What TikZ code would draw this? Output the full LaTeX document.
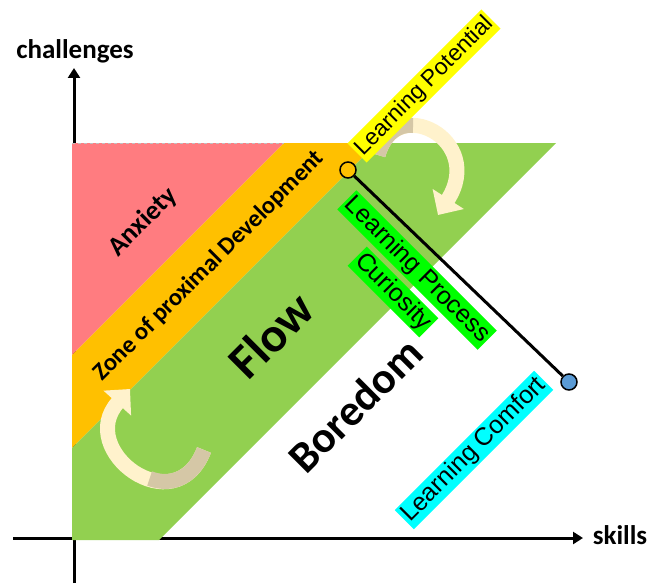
\documentclass[tikz,border=0pt]{standalone}
\usepackage{fontspec}
\setmainfont{Carlito}
\newfontfamily\labelfont{Liberation Sans}
\usetikzlibrary{arrows.meta,positioning}
\definecolor{anxred}{HTML}{FF7C80}
\definecolor{zpdorange}{HTML}{FFC000}
\definecolor{flowgreen}{HTML}{92D050}
\definecolor{tagyellow}{HTML}{FFFF00}
\definecolor{taggreen}{HTML}{00FF00}
\definecolor{tagcyan}{HTML}{00FFFF}
\definecolor{dotblue}{HTML}{5B9BD5}
\definecolor{cream}{HTML}{FFF2CC}
\definecolor{creamdark}{HTML}{D5C7A6}

\begin{document}
\begin{tikzpicture}[x=1pt,y=-1pt]

\tikzset{zonetext/.style={
  font=\bfseries\fontsize{27}{27}\selectfont,
  rotate=45, inner sep=0pt
  },
  bigtext/.style={
  font=\bfseries\fontsize{49}{49}\selectfont,
  rotate=45, inner sep=0pt
  },
  tag/.style={
  font=\labelfont\fontsize{25}{25}\selectfont,
  inner sep=2pt, text height=18pt, text depth=5pt
  },
  dot/.style={circle, draw=black, line width=1.5pt,
  minimum size=16pt, inner sep=0pt},
  axisline/.style={line width=3pt, -{Triangle[length=10pt,width=12pt]}},
  bendarrow/.style={line width=15pt, draw=cream}
}

\useasboundingbox (0,0) rectangle (652,583);

% axes
\coordinate (xstart) at (13,538);
\coordinate (xend) at (583,538);
\coordinate (ystart) at (74,583);
\coordinate (yend) at (74,68);
\path[draw,axisline] (xstart) -- (xend);
\path[draw,axisline] (ystart) -- (yend);
\node[font=\bfseries\fontsize{27}{27}\selectfont] (challenges) at (75,51) {challenges};
\node[font=\bfseries\fontsize{27}{27}\selectfont] (skills) at (620,535) {skills};

% zones
\path[fill=anxred] (72,143) -- (284,143) -- (72,355) -- cycle;
\path[fill=zpdorange] (284,143) -- (377,143) -- (72,448) -- (72,355) -- cycle;
\path[fill=flowgreen] (377,143) -- (556,143) -- (159,540) -- (72,540) -- (72,448) -- cycle;
\path[draw=gray!50,dashed,line width=0.6pt] (72,143) -- (284,143);

% turning arrows
\coordinate (tailtop) at (378,155);
\coordinate (tiptop) at (438,215);
\path[bendarrow,-{Triangle[length=19pt,width=36pt]}] (tailtop) .. controls (395,92) and (486,140) .. (tiptop);
\path[bendarrow,draw=creamdark] (tailtop) .. controls (384,134) and (398.5,124) .. (413,125.5);
\coordinate (tailbot) at (204,450);
\coordinate (tipbot) at (130,389);
\path[bendarrow,-{Triangle[length=19pt,width=36pt]}] (tailbot) .. controls (175,525) and (75,450) .. (tipbot);
\path[bendarrow,draw=creamdark] (tailbot) .. controls (192.4,480) and (169.4,486) .. (149.6,478.5);

% zone names
\node[zonetext] (anxiety) at (143,222) {Anxiety};
\node[zonetext,font=\bfseries\fontsize{24.5}{24.5}\selectfont] (zpd) at (209,266) {Zone of proximal Development};
\node[bigtext] (flow) at (271,335) {Flow};
\node[bigtext,font=\bfseries\fontsize{44}{44}\selectfont] (boredom) at (355,405) {Boredom};

% learning tags
\node[tag,fill=tagyellow,rotate=45,font=\labelfont\fontsize{23}{23}\selectfont] (potential) at (424,86) {Learning Potential};
\node[tag,fill=taggreen,rotate=-45] (process) at (417,270) {Learning Process};
\node[tag,fill=taggreen,rotate=-45] (curiosity) at (393,292) {Curiosity};
\node[tag,fill=tagcyan,rotate=45] (comfort) at (474,450) {Learning Comfort};

\node[dot,fill=zpdorange] (lp) at (348,170) {};
\node[dot,fill=dotblue] (lc) at (569,382) {};
\path[draw,line width=3pt] (lp) -- (lc);
\end{tikzpicture}
\end{document}
